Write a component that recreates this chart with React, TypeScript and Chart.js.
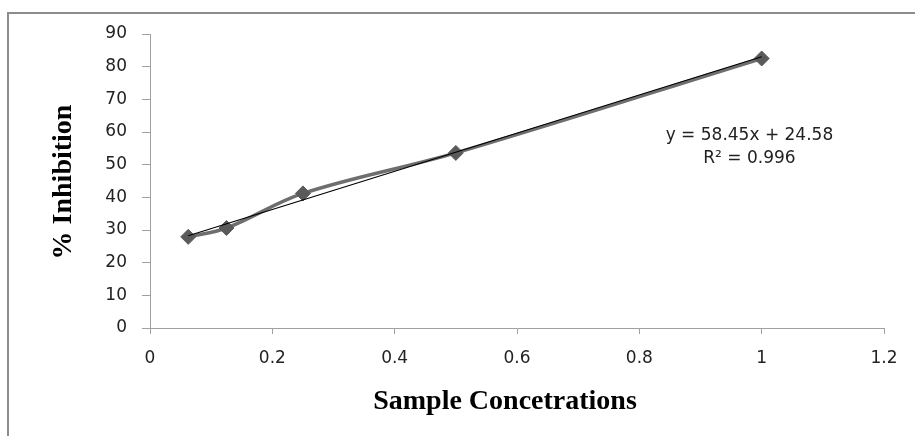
import React, { useEffect, useRef } from "react";
import { Chart, registerables } from "chart.js";

Chart.register(...registerables);

const concentrations = [0.0625, 0.125, 0.25, 0.5, 1];
const inhibition = [27.9, 30.6, 41.2, 53.6, 82.5];
const trendX = [0.0625, 1];
const trendY = [28.23, 83.03];
const equationLines = ["y = 58.45x + 24.58", "R\u00b2 = 0.996"];
const equationAnchor = { x: 0.98, y: [58.8, 51.9] };
const xTitle = "Sample Concetrations";
const yTitle = "% Inhibition";

const W = 906;
const H = 422;

const overlayPlugin = {
  id: "overlay",
  afterDraw(chart: any) {
    const ctx = chart.ctx;
    const xs = chart.scales.x;
    const ys = chart.scales.y;
    ctx.save();
    ctx.fillStyle = "#222";
    ctx.font = "17px 'DejaVu Sans'";
    ctx.textAlign = "center";
    ctx.textBaseline = "middle";
    const ax = xs.getPixelForValue(equationAnchor.x);
    equationLines.forEach((t, i) => {
      ctx.fillText(t, ax, ys.getPixelForValue(equationAnchor.y[i]));
    });
    ctx.fillStyle = "#000";
    ctx.font = "bold 28px 'Liberation Serif'";
    ctx.fillText(xTitle, 496, 388);
    ctx.translate(55, 168);
    ctx.rotate(-Math.PI / 2);
    ctx.fillText(yTitle, 0, 0);
    ctx.restore();
  },
};

export default function App() {
  const ref = useRef<HTMLCanvasElement>(null);
  useEffect(() => {
    if (!ref.current) return;
    const tickFont = { family: "'DejaVu Sans'", size: 17 };
    const chart = new Chart(ref.current, {
      type: "scatter",
      data: {
        datasets: [
          {
            label: "trend",
            data: trendX.map((x, i) => ({ x, y: trendY[i] })),
            showLine: true,
            borderColor: "#000",
            borderWidth: 1.2,
            pointRadius: 0,
            order: 0,
          },
          {
            label: "inhibition",
            data: concentrations.map((x, i) => ({ x, y: inhibition[i] })),
            showLine: true,
            tension: 0.35,
            borderColor: "#6e6e6e",
            borderWidth: 3.5,
            pointStyle: "rectRot",
            pointRadius: 7.5,
            pointBackgroundColor: "#5a5a5a",
            pointBorderColor: "#5a5a5a",
            pointBorderWidth: 1,
            order: 1,
          },
        ],
      },
      options: {
        animation: false,
        responsive: false,
        layout: { padding: { left: 0, top: 20, right: 31, bottom: 0 } },
        plugins: { legend: { display: false }, tooltip: { enabled: false } },
        scales: {
          x: {
            type: "linear",
            min: 0,
            max: 1.2,
            afterFit: (s: any) => {
              s.height = 108;
              s.paddingLeft = 0;
              s.paddingRight = 0;
            },
            ticks: {
              stepSize: 0.2,
              font: tickFont,
              color: "#222",
              padding: 14,
              maxRotation: 0,
              callback: (v: any) => String(Number(Number(v).toFixed(1))),
            },
            grid: { drawOnChartArea: false, tickLength: 6, color: "#a0a0a0" },
            border: { color: "#a0a0a0" },
          },
          y: {
            min: 0,
            max: 90,
            afterFit: (s: any) => {
              s.width = 141;
              s.paddingTop = 0;
              s.paddingBottom = 0;
            },
            ticks: { stepSize: 10, font: tickFont, color: "#222", padding: 15 },
            grid: { drawOnChartArea: false, tickLength: 8, color: "#a0a0a0" },
            border: { color: "#a0a0a0" },
          },
        },
      },
      plugins: [overlayPlugin],
    });
    return () => chart.destroy();
  }, []);
  return (
    <div
      style={{
        position: "fixed",
        left: 7,
        top: 12,
        width: W,
        height: H,
        borderTop: "2px solid #8c8c8c",
        borderLeft: "2px solid #8c8c8c",
        background: "#fff",
      }}
    >
      <canvas ref={ref} width={W} height={H} style={{ display: "block", width: W, height: H }} />
    </div>
  );
}
